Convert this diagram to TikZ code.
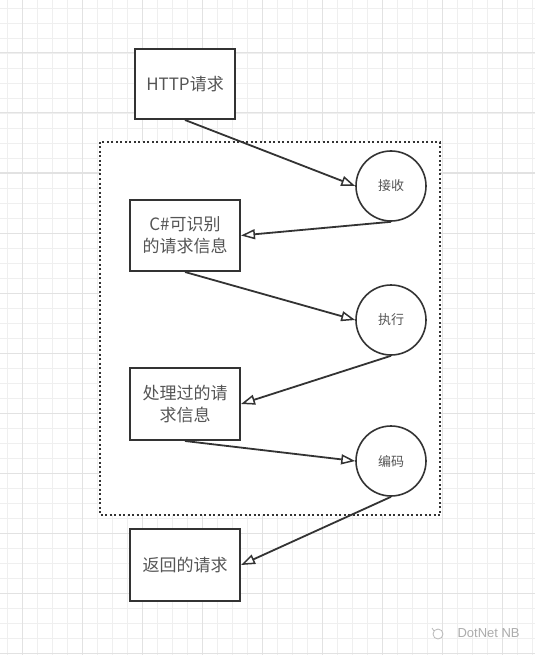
\documentclass[tikz,border=0pt]{standalone}
\usepackage{fontspec}
\setmainfont{Noto Sans CJK SC}
\newfontfamily\wmfont{Liberation Sans}
\usetikzlibrary{arrows.meta}
\definecolor{minorgrid}{HTML}{EFEFEF}
\definecolor{majorgrid}{HTML}{E2E2E2}
\definecolor{ink}{HTML}{333333}
\definecolor{txt}{HTML}{555555}
\tikzset{
  box/.style={draw=ink, line width=2pt, fill=white, text=txt, font=\fontsize{17}{22}\selectfont, align=center, inner sep=2pt},
  proc/.style={draw=ink, line width=1.6pt, fill=white, circle, minimum size=70pt, inner sep=0pt, text=txt, font=\fontsize{13}{15}\selectfont},
  flow/.style={draw=ink, line width=1.8pt, -{Triangle[open, length=14pt, width=10pt, line width=1.5pt]}},
  wm/.style={text=gray!65, font=\wmfont\fontsize{13}{15}\selectfont}
}
\begin{document}
\begin{tikzpicture}[x=1pt,y=-1pt]
\useasboundingbox (0,0) rectangle (535,655);
\fill[white] (0,0) rectangle (535,655);
% grid
\foreach \i in {0,...,35} {\draw[minorgrid, line width=0.9pt] ({7.7+15*\i},0) -- ({7.7+15*\i},655);}
\foreach \i in {0,...,43} {\draw[minorgrid, line width=0.9pt] (0,{8+15*\i}) -- (535,{8+15*\i});}
\foreach \i in {0,...,8} {\draw[majorgrid, line width=1pt] ({22.7+60*\i},0) -- ({22.7+60*\i},655);}
\foreach \i in {0,...,10} {\draw[majorgrid, line width=1pt] (0,{53+60*\i}) -- (535,{53+60*\i});}
% dotted container
\draw[ink, fill=white, line width=2pt, dash pattern=on 2pt off 2.5pt] (100,142) rectangle (440,515);
% nodes
\node[box, minimum width=100pt, minimum height=70pt] (http) at (185,84) {HTTP请求};
\node[proc] (recv) at (391,186) {接收};
\node[box, minimum width=110pt, minimum height=71pt] (cs) at (185,235.5) {C\#可识别\\的请求信息};
\node[proc] (exec) at (391,320) {执行};
\node[box, minimum width=110pt, minimum height=72pt] (done) at (185,404) {处理过的请\\求信息};
\node[proc] (enc) at (391,461) {编码};
\node[box, minimum width=110pt, minimum height=72pt] (ret) at (185,565) {返回的请求};
% connectors
\draw[flow] (http.south) -- (recv.west);
\draw[flow] (recv.south) -- (cs.east);
\draw[flow] (cs.south) -- (exec.west);
\draw[flow] (exec.south) -- (done.east);
\draw[flow] (done.south) -- (enc.west);
\draw[flow] (enc.south) -- (ret.east);
% watermark
\node[wm, anchor=west] (wmtext) at (454,633) {DotNet NB};
\draw[gray!55, line width=0.8pt] (438,634) circle (5pt);
\draw[gray!55, line width=0.8pt] (432,628) -- (434,631);
\end{tikzpicture}
\end{document}
